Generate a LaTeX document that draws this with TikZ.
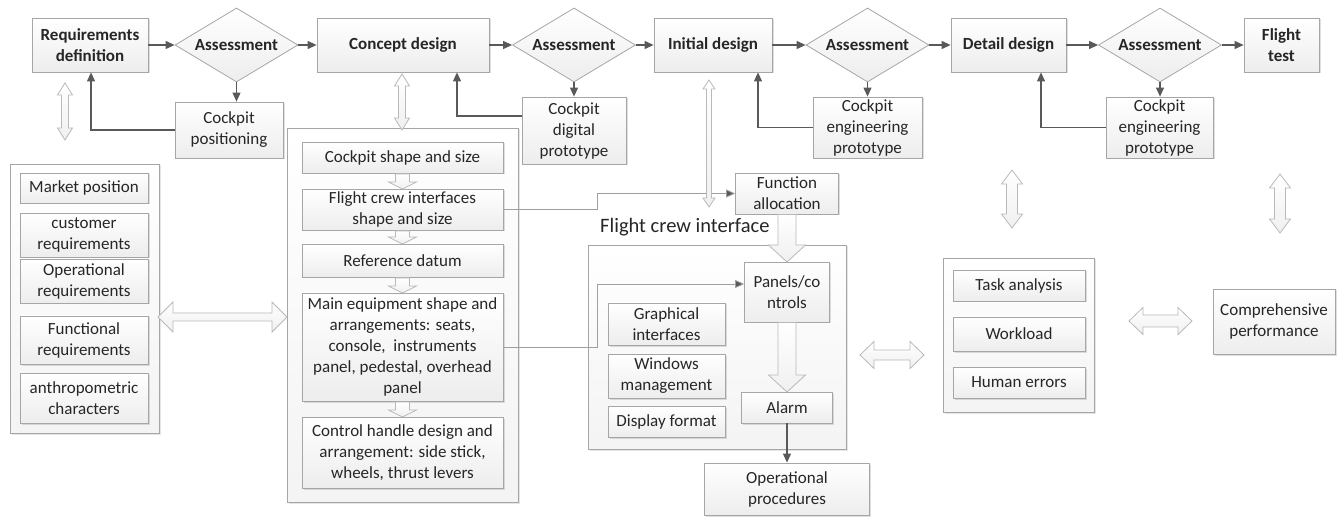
\documentclass[tikz,border=0pt]{standalone}
\usepackage{fontspec}
\setmainfont{Carlito}
\usetikzlibrary{shapes.geometric,arrows.meta,shadows,calc}
\definecolor{linec}{HTML}{595959}
\definecolor{boxd}{HTML}{A6A6A6}
\definecolor{txtc}{HTML}{262626}
\newcommand{\vdarrow}[6]{% x, y1(top tip), y2(bottom tip), shaft half, head half, head length
  \draw[hollow] ({#1},{#2}) -- ({#1+#5},{#2+#6}) -- ({#1+#4},{#2+#6}) -- ({#1+#4},{#3-#6}) -- ({#1+#5},{#3-#6}) -- ({#1},{#3}) -- ({#1-#5},{#3-#6}) -- ({#1-#4},{#3-#6}) -- ({#1-#4},{#2+#6}) -- ({#1-#5},{#2+#6}) -- cycle;}
\newcommand{\hdarrow}[6]{% y, x1(left tip), x2(right tip), shaft half, head half, head length
  \draw[hollow] ({#2},{#1}) -- ({#2+#6},{#1-#5}) -- ({#2+#6},{#1-#4}) -- ({#3-#6},{#1-#4}) -- ({#3-#6},{#1-#5}) -- ({#3},{#1}) -- ({#3-#6},{#1+#5}) -- ({#3-#6},{#1+#4}) -- ({#2+#6},{#1+#4}) -- ({#2+#6},{#1+#5}) -- cycle;}
\newcommand{\vsarrow}[6]{% x, y1(start), y2(tip), shaft half, head half, head length
  \draw[hollow] ({#1-#4},{#2}) -- ({#1+#4},{#2}) -- ({#1+#4},{#3-#6}) -- ({#1+#5},{#3-#6}) -- ({#1},{#3}) -- ({#1-#5},{#3-#6}) -- ({#1-#4},{#3-#6}) -- cycle;}
\tikzset{
  box/.style={draw=boxd, line width=0.8pt, top color=white, bottom color=gray!14,
    drop shadow={shadow xshift=1.5pt,shadow yshift=-1.5pt,opacity=0.25,fill=gray},
    align=center, inner sep=2pt, font=\fontsize{17}{21}\selectfont, text=txtc},
  bbox/.style={box, font=\fontsize{17}{21}\selectfont\bfseries},
  grp/.style={draw=boxd, line width=0.8pt, top color=white, bottom color=gray!9,
    drop shadow={shadow xshift=1.5pt,shadow yshift=-1.5pt,opacity=0.2,fill=gray}},
  diam/.style={diamond, aspect=1.66, inner sep=0pt, minimum width=123pt, minimum height=74pt,
    draw=boxd, line width=0.8pt, top color=white, bottom color=gray!14,
    font=\fontsize{17}{21}\selectfont\bfseries, text=txtc},
  conn/.style={draw=linec, line width=1.1pt, -{Triangle[length=9pt,width=8pt]}},
  lconn/.style={draw=gray!75, line width=0.8pt, -{Triangle[length=9pt,width=8pt,fill=linec]}},
  hollow/.style={draw=gray!55, line width=0.8pt, top color=white, bottom color=gray!12}
}
\begin{document}
\begin{tikzpicture}[x=1pt,y=-1pt]
\useasboundingbox[fill=white] (0,0) rectangle (1343,518);

% top row
\node[bbox, minimum width=116pt, minimum height=54pt] (req) at (90,45) {Requirements\\definition};
\node[diam] (d1) at (236.5,45) {Assessment};
\node[bbox, minimum width=172pt, minimum height=54pt] (concept) at (403,45) {Concept design};
\node[diam] (d2) at (574,45) {Assessment};
\node[bbox, minimum width=118pt, minimum height=54pt] (initial) at (713,45) {Initial design};
\node[diam] (d3) at (867.5,45) {Assessment};
\node[bbox, minimum width=115pt, minimum height=54pt] (detail) at (1008.5,45) {Detail design};
\node[diam] (d4) at (1160,45) {Assessment};
\node[bbox, minimum width=75pt, minimum height=54pt] (flight) at (1281.5,45) {Flight\\test};

\draw[conn] (req.east) -- (d1.west);
\draw[conn] (d1.east) -- (concept.west);
\draw[conn] (concept.east) -- (d2.west);
\draw[conn] (d2.east) -- (initial.west);
\draw[conn] (initial.east) -- (d3.west);
\draw[conn] (d3.east) -- (detail.west);
\draw[conn] (detail.east) -- (d4.west);
\draw[conn] (d4.east) -- (flight.west);

% second row
\node[box, minimum width=108pt, minimum height=56pt] (cp) at (229,130) {Cockpit\\positioning};
\node[box, minimum width=104pt, minimum height=67pt] (cdp) at (574,130.5) {Cockpit\\digital\\prototype};
\node[box, minimum width=109pt, minimum height=61pt] (cep1) at (867.5,127.5) {Cockpit\\engineering\\prototype};
\node[box, minimum width=107pt, minimum height=61pt] (cep2) at (1159.5,127.5) {Cockpit\\engineering\\prototype};

\draw[conn] (d1.south) -- (d1.south |- cp.north);
\draw[conn] (d2.south) -- (d2.south |- cdp.north);
\draw[conn] (d3.south) -- (d3.south |- cep1.north);
\draw[conn] (d4.south) -- (d4.south |- cep2.north);

\draw[conn] (cp.west) -| ([xshift=1pt]req.south);
\draw[conn] ([yshift=14.5pt]cdp.west) -| ([xshift=54pt]concept.south);
\draw[conn] (cep1.west) -| ([xshift=45pt]initial.south);
\draw[conn] (cep2.west) -| ([xshift=32.5pt]detail.south);

% left group
\node[grp, minimum width=149pt, minimum height=269pt] (lgrp) at (84.5,298.5) {};
\node[box, minimum width=128pt, minimum height=30pt] (mp) at (84,188) {Market position};
\node[box, minimum width=128pt, minimum height=44pt] (cr) at (84,235) {customer\\requirements};
\node[box, minimum width=128pt, minimum height=44pt] (opr) at (84,281) {Operational\\requirements};
\node[box, minimum width=128pt, minimum height=48pt] (fr) at (84,340) {Functional\\requirements};
\node[box, minimum width=128pt, minimum height=50pt] (ac) at (84,398) {anthropometric\\characters};

% concept group
\node[grp, minimum width=231pt, minimum height=374pt] (cgrp) at (402.5,315) {};
\node[box, minimum width=201pt, minimum height=31pt] (css) at (402.5,157.5) {Cockpit shape and size};
\node[box, minimum width=201pt, minimum height=41pt] (fci) at (402.5,209.5) {Flight crew interfaces\\shape and size};
\node[box, minimum width=201pt, minimum height=33pt] (rd) at (402.5,260.5) {Reference datum};
\node[box, minimum width=201pt, minimum height=108pt] (me) at (402.5,347) {Main equipment shape and\\arrangements: seats,\\console,\ \ instruments\\panel, pedestal, overhead\\panel};
\node[box, minimum width=201pt, minimum height=71pt] (ch) at (402.5,452.5) {Control handle design and\\arrangement: side stick,\\wheels, thrust levers};

\vsarrow{402.5}{174}{189}{7}{14}{7}
\vsarrow{402.5}{231}{244}{7}{14}{7}
\vsarrow{402.5}{278}{293}{7}{14}{7}
\vsarrow{402.5}{402}{417}{7}{14}{7}

% flight crew interface group
\node[grp, minimum width=258pt, minimum height=204pt] (fgrp) at (717,347) {};
\node[anchor=west, font=\fontsize{20.5}{24}\selectfont, text=txtc, inner sep=0pt] (fcil) at (600,227) {Flight crew interface};
\node[box, minimum width=103pt, minimum height=41pt] (fa) at (787,193.5) {Function\\allocation};
\node[box, minimum width=85pt, minimum height=60pt] (pc) at (787,292) {Panels/co\\ntrols};
\node[box, minimum width=91pt, minimum height=31pt] (al) at (787,407.5) {Alarm};
\node[box, minimum width=165pt, minimum height=52pt] (op) at (787,489) {Operational\\procedures};
\node[box, minimum width=117pt, minimum height=42pt] (gi) at (666.5,324) {Graphical\\interfaces};
\node[box, minimum width=117pt, minimum height=44pt] (wm) at (666.5,376) {Windows\\management};
\node[box, minimum width=117pt, minimum height=31pt] (df) at (666.5,421.5) {Display format};

\vsarrow{787}{214.5}{262}{9}{18.5}{17}
\vsarrow{787}{322.5}{392}{9}{18.5}{17}
\draw[conn] (al.south) -- (op.north);

\draw[lconn] (fci.east) -- ++(94,0) |- (fa.west);
\draw[lconn] (me.east) -- ++(94,0) |- ([yshift=8pt]pc.west);

% human factors group
\node[grp, minimum width=151pt, minimum height=154pt] (hgrp) at (1018.5,335) {};
\node[box, minimum width=132pt, minimum height=31pt] (ta) at (1019,285.5) {Task analysis};
\node[box, minimum width=132pt, minimum height=34pt] (wl) at (1019,334) {Workload};
\node[box, minimum width=132pt, minimum height=31pt] (he) at (1019,382.5) {Human errors};
\node[box, minimum width=122pt, minimum height=65pt] (comp) at (1274,321.5) {Comprehensive\\performance};

% hollow double arrows
\vdarrow{65}{83}{140}{3.5}{7.5}{12}
\vdarrow{402}{74}{130}{3.5}{7.5}{12}
\vdarrow{709}{80}{207}{2.5}{6}{9}
\vdarrow{1012}{170}{228}{5.5}{10.5}{14}
\vdarrow{1280}{174}{233}{5.5}{10.5}{14}
\hdarrow{317}{158}{287}{4}{15}{15}
\hdarrow{355}{860}{924}{5}{13.5}{14}
\hdarrow{321}{1129}{1192}{6}{13.5}{14}
\end{tikzpicture}
\end{document}
